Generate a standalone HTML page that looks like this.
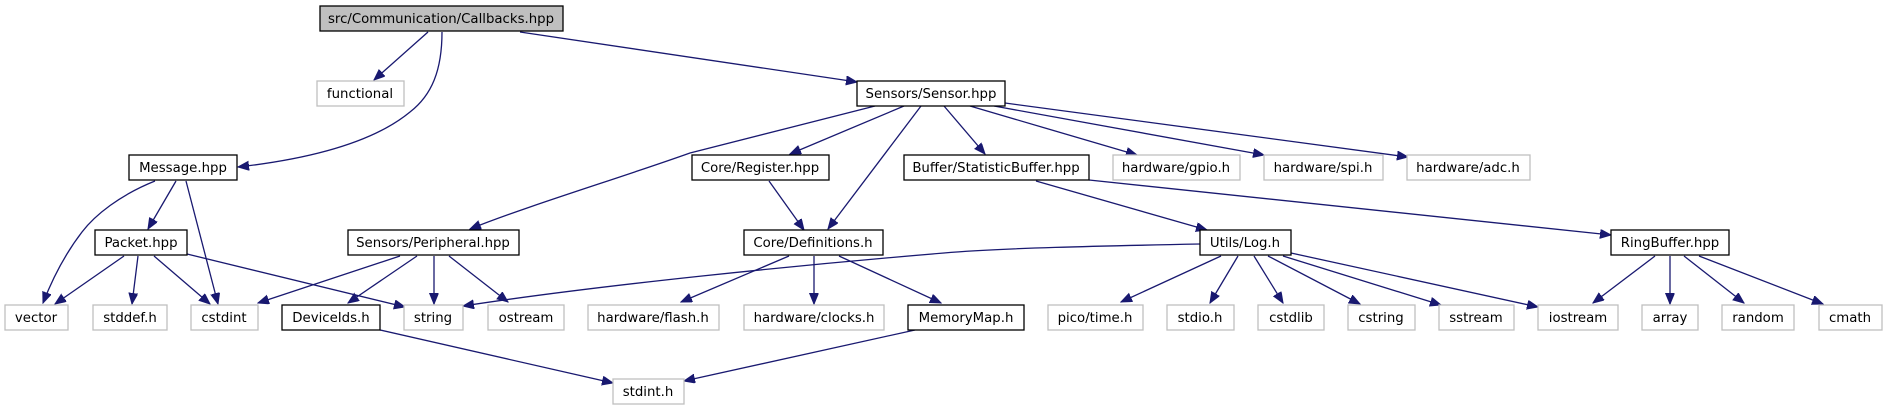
<!DOCTYPE html>
<html><head><meta charset="utf-8"><style>
html,body{margin:0;padding:0;background:#fff;}
svg{display:block;}
text{font-family:"DejaVu Sans","Liberation Sans",sans-serif;font-size:13.3px;fill:#000;text-anchor:middle;}
.n{fill:#fff;stroke:#000;stroke-width:1.3;}
.g{fill:#fff;stroke:#bfbfbf;stroke-width:1.3;}
.e{fill:none;stroke:#191970;stroke-width:1.3;marker-end:url(#a);}
</style></head><body>
<svg width="1887" height="411" viewBox="0 0 1887 411" xmlns="http://www.w3.org/2000/svg">
<defs><marker id="a" markerUnits="userSpaceOnUse" markerWidth="12" markerHeight="10" refX="11" refY="4.5" orient="auto"><path d="M0,0 L11,4.5 L0,9 z" fill="#191970" stroke="#191970"/></marker></defs>
<!-- edges -->
<path class="e" d="M428,32 L374,80"/>
<path class="e" d="M442,32 C442,70 432,95 410,112 C370,145 300,160 238,167"/>
<path class="e" d="M520,32 L857,82"/>
<path class="e" d="M155,181 C120,195 95,215 82,232 C62,258 50,285 43,303"/>
<path class="e" d="M176,181 L148,229"/>
<path class="e" d="M186,181 L218,304"/>
<path class="e" d="M124,256 L55,304"/>
<path class="e" d="M138,256 L132,304"/>
<path class="e" d="M154,256 L210,304"/>
<path class="e" d="M187,254 L405,307"/>
<path class="e" d="M875,106 C800,125 740,140 690,153 C620,178 530,205 470,229"/>
<path class="e" d="M904,106 L790,154"/>
<path class="e" d="M921,106 L828,229"/>
<path class="e" d="M944,106 L985,154"/>
<path class="e" d="M970,106 L1137,155"/>
<path class="e" d="M994,106 L1264,155"/>
<path class="e" d="M1005,103 L1408,157"/>
<path class="e" d="M769,181 L804,230"/>
<path class="e" d="M1036,181 L1207,230"/>
<path class="e" d="M1089,180 L1611,235"/>
<path class="e" d="M400,256 L258,303"/>
<path class="e" d="M417,256 L348,303"/>
<path class="e" d="M434,256 L434,304"/>
<path class="e" d="M449,256 L508,302"/>
<path class="e" d="M789,256 L681,302"/>
<path class="e" d="M814,256 L814,304"/>
<path class="e" d="M839,256 L941,303"/>
<path class="e" d="M1200,244 C1100,246 1000,248 944,253 C800,265 600,285 463,306"/>
<path class="e" d="M1221,256 L1121,302"/>
<path class="e" d="M1238,256 L1210,303"/>
<path class="e" d="M1254,256 L1283,303"/>
<path class="e" d="M1268,256 L1360,304"/>
<path class="e" d="M1283,256 L1441,305"/>
<path class="e" d="M1291,253 L1538,307"/>
<path class="e" d="M1655,256 L1593,303"/>
<path class="e" d="M1670,256 L1670,304"/>
<path class="e" d="M1684,256 L1744,303"/>
<path class="e" d="M1699,256 L1823,304"/>
<path class="e" d="M380,330 L613,383"/>
<path class="e" d="M915,330 L684,381"/>
<!-- nodes row0 -->
<rect x="320" y="6" width="243" height="25" fill="#bfbfbf" stroke="#000" stroke-width="1.3"/><text x="441" y="23">src/Communication/Callbacks.hpp</text>
<!-- row1 -->
<rect class="g" x="317" y="81" width="87" height="25"/><text x="360" y="98">functional</text>
<rect class="n" x="857" y="81" width="148" height="25"/><text x="931" y="98">Sensors/Sensor.hpp</text>
<!-- row2 -->
<rect class="n" x="129" y="155" width="108" height="25"/><text x="183" y="172">Message.hpp</text>
<rect class="n" x="692" y="155" width="137" height="25"/><text x="760" y="172">Core/Register.hpp</text>
<rect class="n" x="904" y="155" width="185" height="25"/><text x="996" y="172">Buffer/StatisticBuffer.hpp</text>
<rect class="g" x="1113" y="155" width="127" height="25"/><text x="1176" y="172">hardware/gpio.h</text>
<rect class="g" x="1264" y="155" width="119" height="25"/><text x="1323" y="172">hardware/spi.h</text>
<rect class="g" x="1407" y="155" width="123" height="25"/><text x="1468" y="172">hardware/adc.h</text>
<!-- row3 -->
<rect class="n" x="95" y="230" width="92" height="25"/><text x="141" y="247">Packet.hpp</text>
<rect class="n" x="348" y="230" width="171" height="25"/><text x="433" y="247">Sensors/Peripheral.hpp</text>
<rect class="n" x="744" y="230" width="139" height="25"/><text x="813" y="247">Core/Definitions.h</text>
<rect class="n" x="1200" y="230" width="91" height="25"/><text x="1245" y="247">Utils/Log.h</text>
<rect class="n" x="1611" y="230" width="118" height="25"/><text x="1670" y="247">RingBuffer.hpp</text>
<!-- row4 -->
<rect class="g" x="5" y="305" width="63" height="25"/><text x="36" y="322">vector</text>
<rect class="g" x="93" y="305" width="74" height="25"/><text x="130" y="322">stddef.h</text>
<rect class="g" x="191" y="305" width="67" height="25"/><text x="224" y="322">cstdint</text>
<rect class="n" x="282" y="305" width="98" height="25"/><text x="331" y="322">DeviceIds.h</text>
<rect class="g" x="404" y="305" width="59" height="25"/><text x="433" y="322">string</text>
<rect class="g" x="488" y="305" width="76" height="25"/><text x="526" y="322">ostream</text>
<rect class="g" x="588" y="305" width="131" height="25"/><text x="653" y="322">hardware/flash.h</text>
<rect class="g" x="744" y="305" width="140" height="25"/><text x="814" y="322">hardware/clocks.h</text>
<rect class="n" x="908" y="305" width="116" height="25"/><text x="966" y="322">MemoryMap.h</text>
<rect class="g" x="1048" y="305" width="95" height="25"/><text x="1095" y="322">pico/time.h</text>
<rect class="g" x="1167" y="305" width="67" height="25"/><text x="1200" y="322">stdio.h</text>
<rect class="g" x="1258" y="305" width="66" height="25"/><text x="1291" y="322">cstdlib</text>
<rect class="g" x="1348" y="305" width="67" height="25"/><text x="1381" y="322">cstring</text>
<rect class="g" x="1439" y="305" width="75" height="25"/><text x="1476" y="322">sstream</text>
<rect class="g" x="1538" y="305" width="80" height="25"/><text x="1578" y="322">iostream</text>
<rect class="g" x="1642" y="305" width="56" height="25"/><text x="1670" y="322">array</text>
<rect class="g" x="1722" y="305" width="72" height="25"/><text x="1758" y="322">random</text>
<rect class="g" x="1819" y="305" width="63" height="25"/><text x="1850" y="322">cmath</text>
<!-- row5 -->
<rect class="g" x="613" y="379" width="71" height="25"/><text x="648" y="396">stdint.h</text>
</svg>
</body></html>
